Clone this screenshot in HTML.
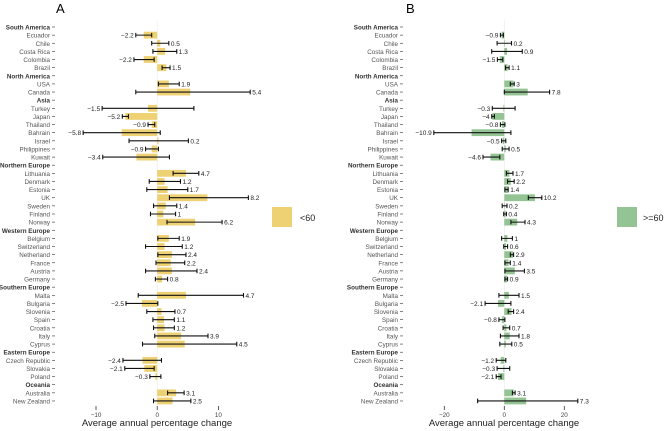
<!DOCTYPE html>
<html><head><meta charset="utf-8"><style>
body{margin:0;background:#fff;}
svg{display:block;font-family:"Liberation Sans",sans-serif;}
</style></head><body>
<svg id="chart" width="669" height="431" viewBox="0 0 669 431" xmlns="http://www.w3.org/2000/svg">
<text x="56" y="13" font-size="13">A</text>
<text x="406" y="13" font-size="13">B</text>
<text x="157" y="426" font-size="9.5" text-anchor="middle" fill="#222">Average annual percentage change</text>
<text x="504" y="426" font-size="9.5" text-anchor="middle" fill="#222">Average annual percentage change</text>
<rect x="272" y="207" width="20" height="20" fill="#EDD172"/>
<text x="300" y="221" font-size="9" fill="#222">&lt;60</text>
<rect x="617" y="207" width="20" height="20" fill="#94C394"/>
<text x="643" y="221" font-size="9" fill="#222">&gt;=60</text>
<g id="pa"></g>
<g id="pb"></g>
</svg>
<script>
const rows = ["South America","Ecuador","Chile","Costa Rica","Colombia","Brazil","North America","USA","Canada","Asia","Turkey","Japan","Thailand","Bahrain","Israel","Philippines","Kuwait","Northern Europe","Lithuania","Denmark","Estonia","UK","Sweden","Finland","Norway","Western Europe","Belgium","Switzerland","Netherland","France","Austria","Germany","Southern Europe","Malta","Bulgaria","Slovenia","Spain","Croatia","Italy","Cyprus","Eastern Europe","Czech Republic","Slovakia","Poland","Oceania","Australia","New Zealand"];
const isGroup = [1,0,0,0,0,0,1,0,0,1,0,0,0,0,0,0,0,1,0,0,0,0,0,0,0,1,0,0,0,0,0,0,1,0,0,0,0,0,0,0,1,0,0,0,1,0,0];
const valuesA = [null,-2.2,0.5,1.3,-2.2,1.5,null,1.9,5.4,null,-1.5,-5.2,-0.9,-5.8,0.2,-0.9,-3.4,null,4.7,1.2,1.7,8.2,1.4,1,6.2,null,1.9,1.2,2.4,2.2,2.4,0.8,null,4.7,-2.5,0.7,1.1,1.2,3.9,4.5,null,-2.4,-2.1,-0.3,null,3.1,2.5];
const lowA = [null,-3.5,-0.9,-0.7,-3.8,0.8,null,0.2,-3.5,null,-9,-5.7,-1.5,-12.1,-4.6,-1.9,-8.9,null,2.6,-1.3,-1.7,2.0,-0.6,-1.1,1.6,null,0.1,-1.9,0.1,-0.2,-1.9,-0.3,null,-3.1,-5.1,-1.7,-0.7,-0.6,-0.4,-2.4,null,-5.6,-5.3,-1.2,null,1.7,-0.6];
const highA = [null,-0.9,1.9,3.2,-0.5,2.1,null,3.6,15.2,null,6,-4.7,-0.4,0.5,5.1,0.2,2.0,null,6.8,3.8,5.0,14.9,3.2,3.0,10.6,null,3.6,4.1,4.7,4.5,6.5,1.7,null,14.1,0.1,2.9,2.8,2.8,8.3,13.0,null,0.7,-0.5,0.6,null,4.4,5.5];
const valuesB = [null,-0.9,0.2,0.9,-1.5,1.1,null,3,7.8,null,-0.3,-4,-0.8,-10.9,-0.5,0.5,-4.6,null,1.7,2.2,1.4,10.2,0.2,0.4,4.3,null,1,0.6,2.9,1.4,3.5,0.9,null,1.5,-2.1,2.4,-0.8,0.7,1.8,0.5,null,-1.2,-0.3,-2.1,null,3.1,7.3];
const lowB = [null,-1.3,-2.4,-4.2,-2.3,0.4,null,2.0,0,null,-4,-4.2,-1.3,-23.5,-0.9,-0.7,-7.1,null,0.7,1.1,0.2,8,-0.7,-0.2,2.2,null,-0.9,-0.2,2,0.2,0.2,0.2,null,-1.8,-6.4,1.3,-1.8,-0.4,-1.3,-1.5,null,-2.7,-2.4,-2.7,null,2.7,-8.9];
const highB = [null,-0.3,2.4,6,-0.5,1.6,null,3.3,15.1,null,3.6,-3.3,0.2,2.2,0.5,1.6,-1.5,null,2.9,3.3,1.3,12.5,0.9,0.7,6.9,null,2.7,1.1,3.1,2,6.7,1.1,null,4.9,2.2,3.1,0.2,1.8,4.9,2.5,null,0.5,1.8,-1.1,null,3.6,24.5];
const ticksA = [-10,0,10];
const ticksB = [-20,0,20];
const NS="http://www.w3.org/2000/svg";
function yScale(i){return 27+i*8.13;}
function mk(g,tag,attrs){const e=document.createElementNS(NS,tag);for(const k in attrs)e.setAttribute(k,attrs[k]);g.appendChild(e);return e;}
function panel(gid,zero,ppu,labelRight,vals,lo,hi,ticks,color,suffix){
  const g=document.getElementById(gid);
  const x=v=>zero+v*ppu;
  mk(g,'line',{x1:x(0),x2:x(0),y1:20,y2:405,stroke:'#eee','stroke-width':0.8});
  rows.forEach((r,i)=>{
    const y=yScale(i);
    const t=mk(g,'text',{x:labelRight,y:y+2.5,'font-size':6.3,'text-anchor':'end',fill:isGroup[i]?'#333':'#555','font-weight':isGroup[i]?'bold':'normal'});
    t.textContent=r;
    
    
    const tk=mk(g,'line',{x1:labelRight+2,x2:labelRight+5,y1:y,y2:y,stroke:'#333','stroke-width':0.6});
    
    
    const v=vals[i]; if(v===null) return;
    const b=mk(g,'rect',{x:Math.min(x(0),x(v)),y:y-3.4,width:Math.abs(x(v)-x(0)),height:6.8,fill:color});
    
    
    const l=x(lo[i]),h=x(hi[i]);
    const e=mk(g,'path',{d:`M${l},${y}H${h}M${l},${y-2.3}V${y+2.3}M${h},${y-2.3}V${y+2.3}`,stroke:'#111','stroke-width':1.1,fill:'none'});
    
    
    const neg=v<0;
    const vl=mk(g,'text',{x:neg?l-2:h+2,y:y+2.5,'font-size':6.5,'text-anchor':neg?'end':'start',fill:'#222'});
    vl.textContent=(neg?'\u2212':'')+Math.abs(v);
    
    
  });
  ticks.forEach(t=>{
    const tl=mk(g,'line',{x1:x(t),x2:x(t),y1:406,y2:410,stroke:'#333','stroke-width':0.8});
    
    
    const tt=mk(g,'text',{x:x(t),y:417,'font-size':6.3,'text-anchor':'middle',fill:'#444'});
    tt.textContent=(t<0?'\u2212':'')+Math.abs(t);
    
    
  });
}
panel('pa',157.2,6.12,50,valuesA,lowA,highA,ticksA,'#EDD172','a');
panel('pb',504.3,3.0,398,valuesB,lowB,highB,ticksB,'#94C394','b');
</script>
</body></html>
